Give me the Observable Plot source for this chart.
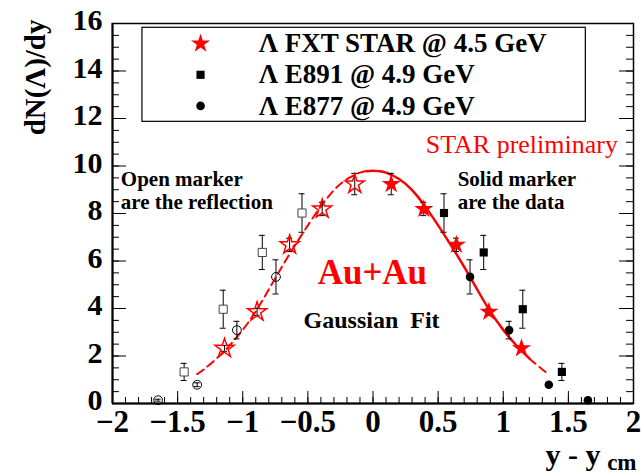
<!DOCTYPE html>
<html>
<head>
<meta charset="utf-8">
<script src="https://cdn.jsdelivr.net/npm/d3@7"></script>
<script src="https://cdn.jsdelivr.net/npm/@observablehq/plot@0.6"></script>
<style>
  body { margin: 0; background: #fff; }
  #chart svg { display: block; }
</style>
</head>
<body>
<div id="chart"></div>
<script>
// Λ rapidity density, Au+Au. Measured half (y - y_cm > 0); the open markers are its reflection.
// STAR fixed-target, √s = 4.5 GeV
const starRap = [0.14, 0.39, 0.64, 0.89, 1.14];
const starDNdy = [9.24, 8.19, 6.68, 3.86, 2.32];
const starErr = [0.45, 0.28, 0.28, 0.15, 0.12];
// E891, 4.9 GeV
const e891Rap = [0.545, 0.85, 1.15, 1.45];
const e891DNdy = [8.02, 6.36, 3.97, 1.33];
const e891Err = [0.81, 0.72, 0.80, 0.36];
// E877, 4.9 GeV
const e877Rap = [0.745, 1.045, 1.35, 1.65];
const e877DNdy = [5.33, 3.09, 0.79, 0.14];
const e877Err = [0.72, 0.37, 0.08, 0.04];
// Gaussian fit, sampled on the positive side
const fitRap = [0, 0.05, 0.1, 0.2, 0.3, 0.4, 0.5, 0.6, 0.7, 0.8, 0.9, 1.0, 1.1, 1.2, 1.3, 1.35];
const fitDNdy = [9.80, 9.78, 9.72, 9.45, 8.98, 8.30, 7.50, 6.65, 5.75, 4.80, 3.88, 3.10, 2.45, 1.90, 1.43, 1.24];
const fitRangeMax = 1.2; // solid part of the fit on the measured side

// Axis ticks and labels
const xTicks = [-2, -1.5, -1, -0.5, 0, 0.5, 1, 1.5, 2];
const xTickLabels = ["\u22122", "\u22121.5", "\u22121", "\u22120.5", "0", "0.5", "1", "1.5", "2"];
const yTicks = [0, 2, 4, 6, 8, 10, 12, 14, 16];
const yTickLabels = ["0", "2", "4", "6", "8", "10", "12", "14", "16"];

// Legend entries
const legendLabels = ["\u039B FXT STAR @ 4.5 GeV", "\u039B E891 @ 4.9 GeV", "\u039B E877 @ 4.9 GeV"];

const rows = (rap, val, err) => rap.map((r, i) => ({y: r, n: val[i], e: err[i]}));
const mirror = (data) => data.map((d) => ({...d, y: -d.y}));

const star = rows(starRap, starDNdy, starErr);
const e891 = rows(e891Rap, e891DNdy, e891Err);
const e877 = rows(e877Rap, e877DNdy, e877Err);
const allPoints = [...star, ...e891, ...e877];
const allMirror = mirror(allPoints);

const fit = fitRap.map((r, i) => ({y: r, n: fitDNdy[i]}));
const fitSolid = [...mirror(fit.filter((d) => d.y > 0 && d.y <= 0.05)), ...fit.filter((d) => d.y <= fitRangeMax)];
const fitDashRight = fit.filter((d) => d.y >= fitRangeMax);
const fitDashLeft = mirror(fit.filter((d) => d.y >= 0.05)).reverse();

// Layout
const W = 641, H = 475;
const mL = 112, mR = 8, mT = 23, mB = 72;
const frameW = W - mL - mR, frameH = H - mT - mB;
const majorX = 12, minorX = 6, majorY = 14, minorY = 7;

const xMinor = d3.range(-20, 21).map((i) => i / 10);
const yMinor = d3.range(0, 33).map((i) => i / 2);

const serif = "'Liberation Serif', 'Times New Roman', serif";
const RED = "#ff0000";
const BOLD = {fontFamily: serif, fontWeight: "bold", fill: "#000"};

const errorBars = (data) => [
  Plot.ruleX(data, {x: "y", y1: (d) => d.n - d.e, y2: (d) => d.n + d.e, stroke: "#000", strokeWidth: 1}),
  Plot.ruleY(data, {x1: "y", x2: "y", y: (d) => d.n + d.e, insetLeft: -3, insetRight: -3, stroke: "#000", strokeWidth: 1}),
  Plot.ruleY(data, {x1: "y", x2: "y", y: (d) => d.n - d.e, insetLeft: -3, insetRight: -3, stroke: "#000", strokeWidth: 1})
];

// Legend placement (data coordinates)
const legX1 = -1.77, legX2 = 1.634, legY1 = 11.86, legY2 = 15.82;
const legMarkX = -1.324, legTextX = -0.878;
const legRows = [15.15, 13.84, 12.53];
const legend = legendLabels.map((t, i) => ({t, y: legRows[i]}));

const chart = Plot.plot({
  width: W,
  height: H,
  marginLeft: mL,
  marginRight: mR,
  marginTop: mT,
  marginBottom: mB,
  x: {domain: [-2, 2], axis: null},
  y: {domain: [0, 16], axis: null},
  style: {fontFamily: serif, background: "#fff", overflow: "visible"},
  marks: [
    // legend box
    Plot.rect([0], {x1: legX1, x2: legX2, y1: legY1, y2: legY2, fill: "#fff", stroke: "#000", strokeWidth: 1.2}),
    Plot.dot([legend[0]], {x: legMarkX, y: "y", symbol: "star", r: 6, fill: RED}),
    Plot.dot([legend[1]], {x: legMarkX, y: "y", symbol: "square", r: 4.6, fill: "#000"}),
    Plot.dot([legend[2]], {x: legMarkX, y: "y", symbol: "circle", r: 4.3, fill: "#000"}),
    Plot.text(legend, {x: legTextX, y: "y", text: "t", textAnchor: "start", lineAnchor: "middle", fontSize: 27, ...BOLD}),

    // frame ticks: bottom
    Plot.ruleX(xMinor, {insetTop: frameH - minorX, stroke: "#000", strokeWidth: 1}),
    Plot.ruleX(xTicks, {insetTop: frameH - majorX, stroke: "#000", strokeWidth: 1}),
    // left & right
    Plot.ruleY(yMinor, {insetRight: frameW - minorY, stroke: "#000", strokeWidth: 1}),
    Plot.ruleY(yTicks, {insetRight: frameW - majorY, stroke: "#000", strokeWidth: 1}),
    Plot.ruleY(yMinor, {insetLeft: frameW - minorY, stroke: "#000", strokeWidth: 1}),
    Plot.ruleY(yTicks, {insetLeft: frameW - majorY, stroke: "#000", strokeWidth: 1}),
    Plot.frame({stroke: "#000", strokeWidth: 1.5}),
    Plot.ruleX([-2], {stroke: "#000", strokeWidth: 2}),
    Plot.ruleY([0], {stroke: "#000", strokeWidth: 2}),

    // tick labels
    Plot.text(xTicks.map((v, i) => ({v, label: xTickLabels[i]})), {
      x: "v", y: 0, text: "label", dy: 19, lineAnchor: "middle", fontSize: 31, ...BOLD
    }),
    Plot.text(yTicks.map((v, i) => ({v, label: yTickLabels[i]})), {
      x: -2, y: "v", text: "label", dx: -10, dy: -3, textAnchor: "end", lineAnchor: "middle", fontSize: 30, ...BOLD
    }),

    // axis titles
    Plot.text(["dN(\u039B)/dy"], {
      x: -2, y: 16, dx: -77, dy: -4, rotate: -90, textAnchor: "end", lineAnchor: "middle", fontSize: 29, ...BOLD
    }),
    Plot.text(["y - y"], {x: 2, y: 0, dx: -33, dy: 61, textAnchor: "end", lineAnchor: "bottom", fontSize: 30, ...BOLD}),
    Plot.text(["cm"], {x: 2, y: 0, dx: 3, dy: 66, textAnchor: "end", lineAnchor: "bottom", fontSize: 23, ...BOLD}),

    // Gaussian fit
    Plot.line(fitDashLeft, {x: "y", y: "n", curve: "natural", stroke: RED, strokeWidth: 2, strokeDasharray: "8,5"}),
    Plot.line(fitDashRight, {x: "y", y: "n", curve: "natural", stroke: RED, strokeWidth: 2, strokeDasharray: "8,5"}),
    Plot.line(fitSolid, {x: "y", y: "n", curve: "natural", stroke: RED, strokeWidth: 2.5}),

    // error bars
    ...errorBars(allPoints),
    ...errorBars(allMirror),

    // reflected (open) markers
    Plot.dot(mirror(e891), {x: "y", y: "n", symbol: "square", r: 4.6, fill: "#fff", stroke: "#444", strokeWidth: 1}),
    Plot.dot(mirror(e877), {x: "y", y: "n", symbol: "circle", r: 4.4, fill: "none", stroke: "#000", strokeWidth: 1}),
    Plot.dot(mirror(star), {x: "y", y: "n", symbol: "star", r: 6, fill: "none", stroke: RED, strokeWidth: 1.5}),

    // measured (solid) markers
    Plot.dot(e891, {x: "y", y: "n", symbol: "square", r: 4.6, fill: "#000"}),
    Plot.dot(e877, {x: "y", y: "n", symbol: "circle", r: 4.3, fill: "#000"}),
    Plot.dot(star, {x: "y", y: "n", symbol: "star", r: 6, fill: RED}),

    // annotations
    Plot.text(["STAR preliminary"], {x: 0.405, y: 10.56, textAnchor: "start", lineAnchor: "bottom", fontSize: 26, fontFamily: serif, fill: RED}),
    Plot.text(["Open marker\nare the reflection"], {x: -1.936, y: 8.19, textAnchor: "start", lineAnchor: "bottom", lineHeight: 1.1, fontSize: 21, ...BOLD}),
    Plot.text(["Solid marker\nare the data"], {x: 0.65, y: 8.19, textAnchor: "start", lineAnchor: "bottom", lineHeight: 1.1, fontSize: 21, ...BOLD}),
    Plot.text(["Au+Au"], {x: -0.425, y: 5.04, textAnchor: "start", lineAnchor: "bottom", fontSize: 35, fontFamily: serif, fontWeight: "bold", fill: RED}),
    Plot.text(["Gaussian\u2002Fit"], {x: -0.533, y: 3.19, textAnchor: "start", lineAnchor: "bottom", fontSize: 24, ...BOLD})
  ]
});

document.getElementById("chart").appendChild(chart);
</script>
</body>
</html>
